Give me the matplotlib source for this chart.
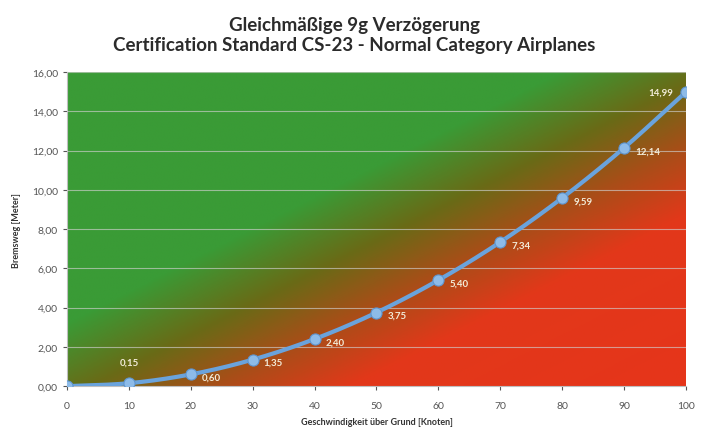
import matplotlib
matplotlib.use("Agg")
import matplotlib.pyplot as plt
from matplotlib.colors import LinearSegmentedColormap
import numpy as np

# data
speed_kt = [0, 10, 20, 30, 40, 50, 60, 70, 80, 90, 100]
brake_m = [0.00, 0.15, 0.60, 1.35, 2.40, 3.75, 5.40, 7.34, 9.59, 12.14, 14.99]
x_ticks = list(range(0, 101, 10))
y_ticks = list(range(0, 17, 2))

title = "Gleichmäßige 9g Verzögerung\nCertification Standard CS-23 - Normal Category Airplanes"
x_label = "Geschwindigkeit über Grund [Knoten]"
y_label = "Bremsweg [Meter]"

plt.rcParams['font.family'] = ['Lato', 'DejaVu Sans']


def de(v):
    return f"{v:.2f}".replace(".", ",")


def smooth(xs, ys, n=20):
    # catmull-rom style curve like the "smoothed line" of office charts
    xs = np.asarray(xs, float)
    ys = np.asarray(ys, float)
    px = np.concatenate([[2 * xs[0] - xs[1]], xs, [2 * xs[-1] - xs[-2]]])
    py = np.concatenate([[2 * ys[0] - ys[1]], ys, [2 * ys[-1] - ys[-2]]])
    ox, oy = [], []
    for i in range(1, len(px) - 2):
        t = np.linspace(0, 1, n, endpoint=False)
        for p, out in ((px, ox), (py, oy)):
            p0, p1, p2, p3 = p[i - 1], p[i], p[i + 1], p[i + 2]
            out.extend(0.5 * (2 * p1 + (-p0 + p2) * t
                              + (2 * p0 - 5 * p1 + 4 * p2 - p3) * t ** 2
                              + (-p0 + 3 * p1 - 3 * p2 + p3) * t ** 3))
    ox.append(xs[-1])
    oy.append(ys[-1])
    return ox, oy


fig = plt.figure(figsize=(7.09, 4.35), dpi=100)
ax = fig.add_axes([0.0945, 0.110, 0.873, 0.722])

# diagonal green -> red background
cmap = LinearSegmentedColormap.from_list("gr", [
    (0.0, "#3a9b36"), (0.40, "#3a9b36"), (0.52, "#6a6a16"),
    (0.62, "#a84e18"), (0.73, "#e2381a"), (1.0, "#e6351a")])
gx, gy = np.meshgrid(np.linspace(0, 1, 400), np.linspace(1, 0, 300))
ax.imshow((gx - gy + 1) / 2, cmap=cmap, vmin=0, vmax=1, extent=[0, 1, 0, 1],
          transform=ax.transAxes, aspect="auto", zorder=0, interpolation="bilinear")

for yv in y_ticks[1:]:
    ax.axhline(yv, color="#d0d0d0", lw=0.8, alpha=0.65, zorder=1)

sx, sy = smooth(speed_kt, brake_m)
ax.plot(sx, sy, color="#6aa3dc", lw=3, zorder=3, solid_capstyle="round")
ax.plot(speed_kt, brake_m, "o", ms=8, color="#8dbbe8", mec="#5d95d0", mew=0.8, zorder=4)

for xv, yv in zip(speed_kt, brake_m):
    if xv == 0:
        continue
    if xv == 10:
        ax.annotate(de(yv), (xv, yv), xytext=(0, 12), textcoords="offset points",
                    ha="center", va="bottom", fontsize=7, fontweight="bold",
                    color="#f3ecd8", zorder=5)
    elif xv == 100:
        ax.annotate(de(yv), (xv, yv), xytext=(-9, 0), textcoords="offset points",
                    ha="right", va="center", fontsize=7, fontweight="bold",
                    color="#f3ecd8", zorder=5)
    else:
        ax.annotate(de(yv), (xv, yv), xytext=(8, -2), textcoords="offset points",
                    ha="left", va="center", fontsize=7, fontweight="bold",
                    color="#f3ecd8", zorder=5)

ax.set_xlim(0, 100)
ax.set_ylim(0, 16)
ax.set_xticks(x_ticks)
ax.set_yticks(y_ticks)
ax.set_yticklabels([de(v) for v in y_ticks])
ax.tick_params(labelsize=7.5, colors="#555555", length=3, width=0.8)
ax.tick_params(axis="x", pad=8)
for side in ["top", "right"]:
    ax.spines[side].set_visible(False)
for side in ["left", "bottom"]:
    ax.spines[side].set_color("#bfbfbf")

ax.set_xlabel(x_label, fontsize=6.5, fontweight="bold", color="#333333", labelpad=5)
ax.set_ylabel(y_label, fontsize=6.5, fontweight="bold", color="#333333", labelpad=8)

fig.text(0.5, 0.918, title, ha="center", va="center", fontsize=13.5,
         fontweight="bold", color="#2b2b2b", linespacing=1.2)

fig.savefig("out.png", dpi=100)
